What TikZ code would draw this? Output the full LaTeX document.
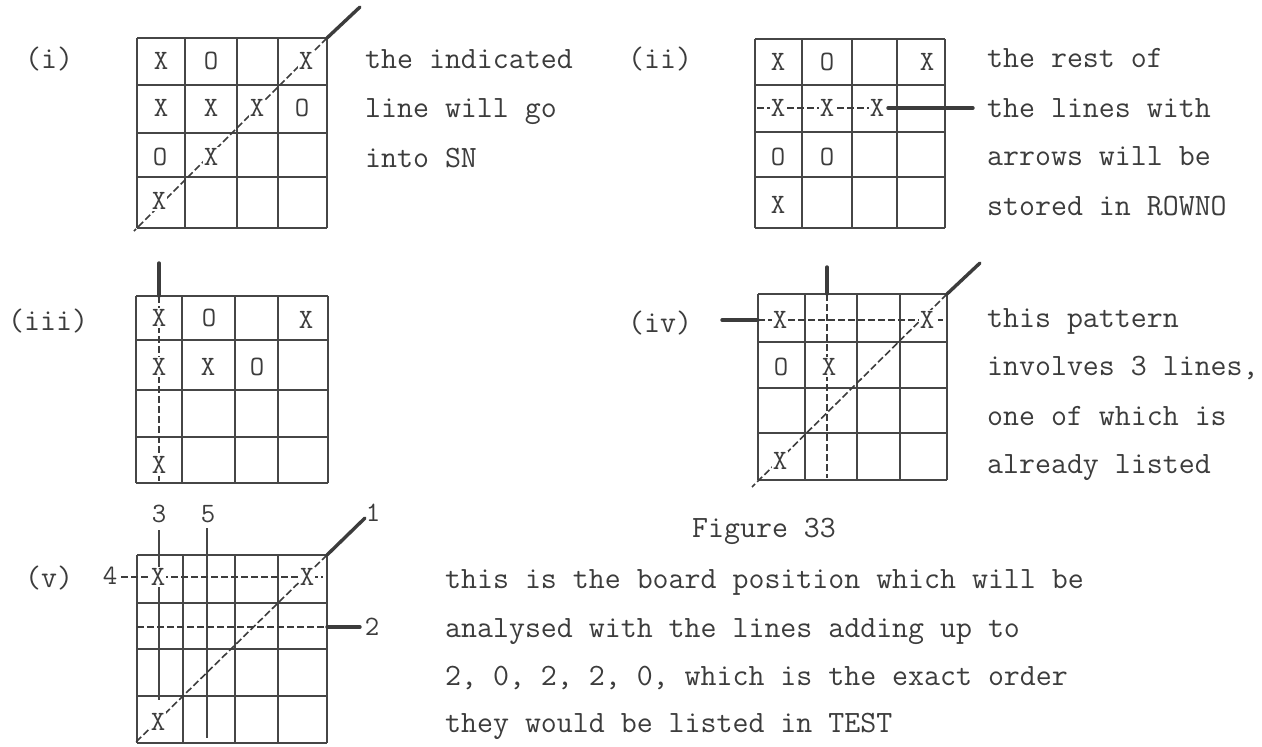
\documentclass[tikz,border=0pt]{standalone}
\usepackage{fontspec}
\definecolor{ink}{RGB}{60,60,60}
\definecolor{gridc}{RGB}{70,70,70}
\newcommand\txtfont{\ttfamily\fontsize{31}{31}\selectfont}
\newcommand\markfont{\ttfamily\fontsize{28}{28}\selectfont}
\tikzset{
  gridline/.style={draw=gridc, line width=2.4pt},
  thru/.style={draw=ink, line width=1.6pt, dash pattern=on 7pt off 3pt},
  ext/.style={draw=ink, line width=3.4pt, line cap=round},
  solidthru/.style={draw=gridc, line width=2.6pt},
  mk/.style={font=\markfont, text=ink, fill=white, inner sep=1pt},
  txt/.style={font=\txtfont, text=ink, anchor=base west, inner sep=0pt},
  num/.style={font=\markfont, text=ink, inner sep=0.5pt},
}
\begin{document}
\begin{tikzpicture}[x=1pt,y=-1pt]
\useasboundingbox (0,0) rectangle (1262,747);
\fill[white] (0,0) rectangle (1262,747);

% ---------------- (i) ----------------
\node[txt] (li) at (25,68) {(i)};
\foreach \x in {137,185,237,278,327} \draw[gridline] (\x,38) -- (\x,228);
\foreach \y in {38,85,133,177,228} \draw[gridline] (137,\y) -- (327,\y);
\coordinate (ia) at (360,7);
\coordinate (ib) at (327,38);
\coordinate (ic) at (134,231);
\draw[ext] (ia) -- (ib);
\draw[thru] (ib) -- (ic);
\node[mk] (i11) at (161,61) {X};
\node[mk] (i12) at (211,61) {O};
\node[mk] (i14) at (306,61) {X};
\node[mk] (i21) at (161,108) {X};
\node[mk] (i22) at (211,108) {X};
\node[mk] (i23) at (257,108) {X};
\node[mk] (i24) at (302,108) {O};
\node[mk] (i31) at (160,157) {O};
\node[mk] (i32) at (211,157) {X};
\node[mk] (i41) at (159,201) {X};
\node[txt] (ti1) at (365,68) {the indicated};
\node[txt] (ti2) at (365,117) {line will go};
\node[txt] (ti3) at (365,167) {into SN};

% ---------------- (ii) ----------------
\node[txt] (lii) at (628,68) {(ii)};
\foreach \x in {755,802,852,897,945} \draw[gridline] (\x,39) -- (\x,228);
\foreach \y in {39,85,132,177,228} \draw[gridline] (755,\y) -- (945,\y);
\coordinate (iia) at (757,108);
\coordinate (iib) at (888,108);
\coordinate (iic) at (973,108);
\draw[thru] (iia) -- (iib);
\draw[ext] (iib) -- (iic);
\node[mk] (ii11) at (778,62) {X};
\node[mk] (ii12) at (827,62) {O};
\node[mk] (ii14) at (927,62) {X};
\node[mk] (ii21) at (778,108) {X};
\node[mk] (ii22) at (827,108) {X};
\node[mk] (ii23) at (877,108) {X};
\node[mk] (ii31) at (778,157) {O};
\node[mk] (ii32) at (827,157) {O};
\node[mk] (ii41) at (778,205) {X};
\node[txt] (tii1) at (987,67) {the rest of};
\node[txt] (tii2) at (987,117) {the lines with};
\node[txt] (tii3) at (987,165) {arrows will be};
\node[txt] (tii4) at (987,215) {stored in ROWNO};

% ---------------- (iii) ----------------
\node[txt] (liii) at (8,330) {(iii)};
\foreach \x in {136,182,235,278,328} \draw[gridline] (\x,296) -- (\x,483);
\foreach \y in {296,340,390,437,483} \draw[gridline] (136,\y) -- (328,\y);
\coordinate (iiia) at (159,263);
\coordinate (iiib) at (159,296);
\coordinate (iiic) at (159,481);
\draw[ext] (iiia) -- (iiib);
\draw[thru] (iiib) -- (iiic);
\node[mk] (iii11) at (159,318) {X};
\node[mk] (iii12) at (209,318) {O};
\node[mk] (iii14) at (306,320) {X};
\node[mk] (iii21) at (159,367) {X};
\node[mk] (iii22) at (208,367) {X};
\node[mk] (iii23) at (257,367) {O};
\node[mk] (iii41) at (159,465) {X};

% ---------------- (iv) ----------------
\node[txt] (liv) at (628,332) {(iv)};
\foreach \x in {758,805,857,900,947} \draw[gridline] (\x,294) -- (\x,480);
\foreach \y in {294,342,388,433,480} \draw[gridline] (758,\y) -- (947,\y);
\coordinate (iva) at (722,320);
\coordinate (ivb) at (758,320);
\coordinate (ivc) at (943,320);
\draw[ext] (iva) -- (ivb);
\draw[thru] (ivb) -- (ivc);
\coordinate (ivd) at (827,267);
\coordinate (ive) at (827,294);
\coordinate (ivf) at (827,478);
\draw[ext] (ivd) -- (ive);
\draw[thru] (ive) -- (ivf);
\coordinate (ivg) at (980,263);
\coordinate (ivh) at (947,294);
\coordinate (ivi) at (752,487);
\draw[ext] (ivg) -- (ivh);
\draw[thru] (ivh) -- (ivi);
\node[mk] (iv11) at (780,320) {X};
\node[mk] (iv14) at (927,320) {X};
\node[mk] (iv21) at (781,367) {O};
\node[mk] (iv22) at (829,367) {X};
\node[mk] (iv41) at (780,461) {X};
\node[txt] (tiv1) at (987,327) {this pattern};
\node[txt] (tiv2) at (987,375) {involves 3 lines,};
\node[txt] (tiv3) at (987,425) {one of which is};
\node[txt] (tiv4) at (987,473) {already listed};

% ---------------- (v) ----------------
\node[txt] (lv) at (25,587) {(v)};
\foreach \x in {137,183,235,278,327} \draw[gridline] (\x,555) -- (\x,743);
\foreach \y in {555,603,649,696,743} \draw[gridline] (137,\y) -- (327,\y);
% line 3
\coordinate (v3a) at (159,530);
\coordinate (v3b) at (159,700);
\draw[solidthru] (v3a) -- (v3b);
% line 5
\coordinate (v5a) at (207,528);
\coordinate (v5b) at (207,738);
\draw[solidthru] (v5a) -- (v5b);
% line 4
\coordinate (v4a) at (121,577);
\coordinate (v4b) at (323,577);
\draw[thru] (v4a) -- (v4b);
% line 2
\coordinate (v2a) at (137,627);
\coordinate (v2b) at (327,627);
\coordinate (v2c) at (360,627);
\draw[thru] (v2a) -- (v2b);
\draw[ext] (v2b) -- (v2c);
% line 1
\coordinate (v1a) at (365,518);
\coordinate (v1b) at (327,555);
\coordinate (v1c) at (136,742);
\draw[ext] (v1a) -- (v1b);
\draw[thru] (v1b) -- (v1c);
\node[mk] (v11) at (158,577) {X};
\node[mk] (v14) at (307,577) {X};
\node[mk] (v41) at (158,722) {X};
\node[num] (n3) at (159,514) {3};
\node[num] (n5) at (208,514) {5};
\node[num] (n1) at (373,513) {1};
\node[num] (n4) at (110,576) {4};
\node[num] (n2) at (372,627) {2};

% ---------------- captions ----------------
\node[txt] (fig) at (692,537) {Figure 33};
\node[txt] (tv1) at (445,588) {this is the board position which will be};
\node[txt] (tv2) at (445,637) {analysed with the lines adding up to};
\node[txt] (tv3) at (445,685) {2, 0, 2, 2, 0, which is the exact order};
\node[txt] (tv4) at (445,732) {they would be listed in TEST};
\end{tikzpicture}
\end{document}
